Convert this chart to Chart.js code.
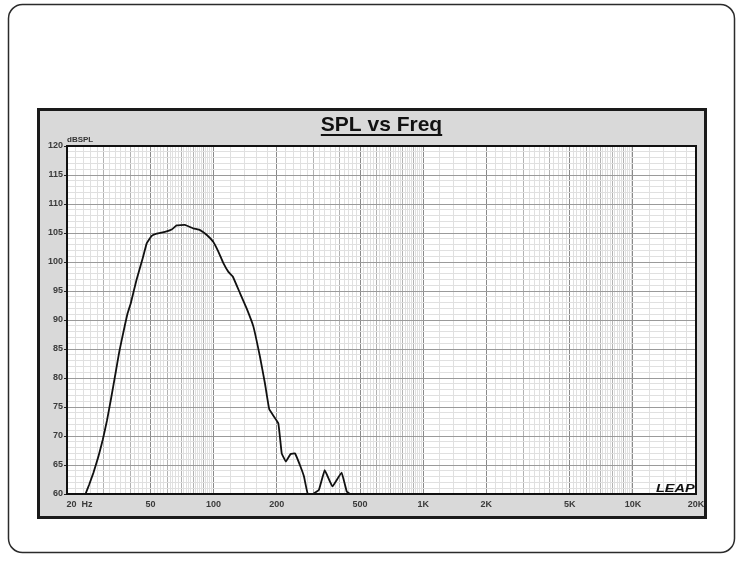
<!DOCTYPE html>
<html>
<head>
<meta charset="utf-8">
<script src="https://cdn.jsdelivr.net/npm/chart.js@4/dist/chart.umd.min.js"></script>
<style>
  html, body { margin: 0; padding: 0; background: #fff; }
  #wrap { width: 742px; height: 561px; position: relative; }
</style>
</head>
<body>
<div id="wrap"><canvas id="splChart" width="742" height="561"></canvas></div>
<script>
// response (Hz, dB SPL)
var freq = [24.5, 25.5, 26.7, 28.2, 29.6, 31, 32.5, 34, 35.5, 37.3, 38.8, 40.3, 42.9, 45.9, 48, 50.7, 53.5, 58.6, 63.1, 66.7, 73, 80, 86.2, 92.6, 99.6, 105.4, 111.4, 117.7, 123.5, 133.8, 143.8, 154.8, 166.4, 175.8, 184.4, 203.6, 211.4, 221.2, 233.2, 244.6, 260, 270, 281, 298, 318, 339, 369, 408, 432, 448]
var spl = [60, 61.6, 63.6, 66.4, 69.3, 72.6, 76.6, 80.6, 84.5, 88.2, 91.0, 92.9, 96.9, 100.6, 103.2, 104.5, 104.9, 105.2, 105.6, 106.3, 106.4, 105.8, 105.5, 104.7, 103.5, 101.8, 99.8, 98.3, 97.5, 94.6, 92.0, 88.9, 83.7, 79.1, 74.6, 72.2, 67.0, 65.6, 66.9, 67.0, 64.7, 63.0, 60.1, 60, 60.7, 64.1, 61.3, 63.7, 60.4, 60]

var xLabelValues = [20, 50, 100, 200, 500, 1000, 2000, 5000, 10000, 20000]
var xLabelTexts = ['          20  Hz', '50', '100', '200', '500', '1K', '2K', '5K', '10K', '20K']
var yMin = 60, yMax = 120

var chartTitle = 'SPL vs Freq'
var yUnit = 'dBSPL'

var points = freq.map(function (f, i) { return { x: f, y: spl[i] } })

var tickFont = { family: 'Liberation Sans, Arial, sans-serif', size: 9, weight: 'bold' }

// panel, frame, title etc.
var decor = {
  id: 'decor',
  beforeDraw: function (chart) {
    var c = chart.ctx, a = chart.chartArea
    c.save()
    c.fillStyle = '#fff'
    c.fillRect(0, 0, chart.width, chart.height)
    // outer rounded frame
    c.strokeStyle = '#2b2b2b'
    c.lineWidth = 1.5
    c.beginPath()
    c.roundRect(8.5, 4.5, 726, 548, 14)
    c.stroke()
    // grey panel
    c.fillStyle = '#d9d9d9'
    c.fillRect(37, 108, 670, 411)
    c.strokeStyle = '#1a1a1a'
    c.lineWidth = 3
    c.strokeRect(38.5, 109.5, 667, 408)
    // plot background
    c.fillStyle = '#fff'
    c.fillRect(a.left, a.top, a.right - a.left, a.bottom - a.top)
    c.restore()
  },
  afterDraw: function (chart) {
    var c = chart.ctx, a = chart.chartArea
    c.save()
    c.strokeStyle = '#111'
    c.lineWidth = 2
    c.strokeRect(a.left, a.top, a.right - a.left, a.bottom - a.top)

    // title, underlined
    c.fillStyle = '#111'
    c.font = 'bold 21px "Liberation Sans", Arial, sans-serif'
    c.textAlign = 'center'
    c.textBaseline = 'alphabetic'
    var cx = (a.left + a.right) / 2
    c.fillText(chartTitle, cx, 131)
    var w = c.measureText(chartTitle).width
    c.fillRect(cx - w / 2, 134, w, 2)

    // unit label
    c.font = 'bold 8px "Liberation Sans", Arial, sans-serif'
    c.fillStyle = '#333'
    c.textAlign = 'left'
    c.fillText(yUnit, a.left, a.top - 4)

    // LEAP mark
    c.translate(656, 492)
    c.scale(1.45, 1)
    c.font = 'italic bold 10px "Liberation Sans", Arial, sans-serif'
    c.fillStyle = '#111'
    c.fillText('LEAP', 0, 0)
    c.restore()
  }
}

function xLevel(v) {
  var d = Math.pow(10, Math.floor(Math.log10(v) + 1e-9))
  var k = Math.round(v / d * 10)
  if (k === 10 || k === 20 || k === 50) return 0
  if (k % 10 === 0) return 1
  return 2
}

var ctx = document.getElementById('splChart').getContext('2d')
var chart = new Chart(ctx, {
  type: 'scatter',
  data: {
    datasets: [{
      data: points,
      showLine: true,
      borderColor: '#111',
      borderWidth: 1.8,
      pointRadius: 0,
      tension: 0.08,
      fill: false
    }]
  },
  options: {
    responsive: false,
    animation: false,
    layout: { padding: { left: 0, right: 46, top: 146, bottom: 0 } },
    plugins: {
      legend: { display: false },
      tooltip: { enabled: false },
      title: { display: false }
    },
    scales: {
      x: {
        type: 'logarithmic',
        min: 20,
        max: 20000,
        afterBuildTicks: function (scale) {
          var t = []
          ;[10, 100, 1000, 10000].forEach(function (d) {
            for (var k = 10; k < 100; k += 2) {
              var v = k * d / 10
              if (v >= 20 && v <= 20000) t.push({ value: v, lvl: xLevel(v) })
            }
          })
          scale.ticks = t
        },
        afterFit: function (scale) { scale.height = 67 },
        border: { display: false },
        grid: {
          color: function (c) {
            var l = c.tick ? c.tick.lvl : 2
            return l === 0 ? '#8a8a8a' : (l === 1 ? '#b2b2b2' : '#e0e0e0')
          },
          lineWidth: 1,
          drawTicks: false
        },
        ticks: {
          autoSkip: false,
          maxRotation: 0,
          padding: 5,
          color: '#3a3a3a',
          font: tickFont,
          callback: function (value) {
            var i = xLabelValues.indexOf(value)
            return i >= 0 ? xLabelTexts[i] : ''
          }
        }
      },
      y: {
        min: yMin,
        max: yMax,
        afterFit: function (scale) { scale.width = 67 },
        border: { display: false },
        grid: {
          color: function (c) {
            return c.tick && c.tick.value % 5 === 0 ? '#9a9a9a' : '#e0e0e0'
          },
          tickColor: function (c) {
            return c.tick && c.tick.value % 5 === 0 ? '#222' : 'rgba(0,0,0,0)'
          },
          tickLength: 3,
          lineWidth: 1
        },
        ticks: {
          stepSize: 1,
          autoSkip: false,
          padding: 1,
          color: '#3a3a3a',
          font: tickFont,
          callback: function (value) { return value % 5 === 0 ? value : '' }
        }
      }
    }
  },
  plugins: [decor]
})
</script>
</body>
</html>
